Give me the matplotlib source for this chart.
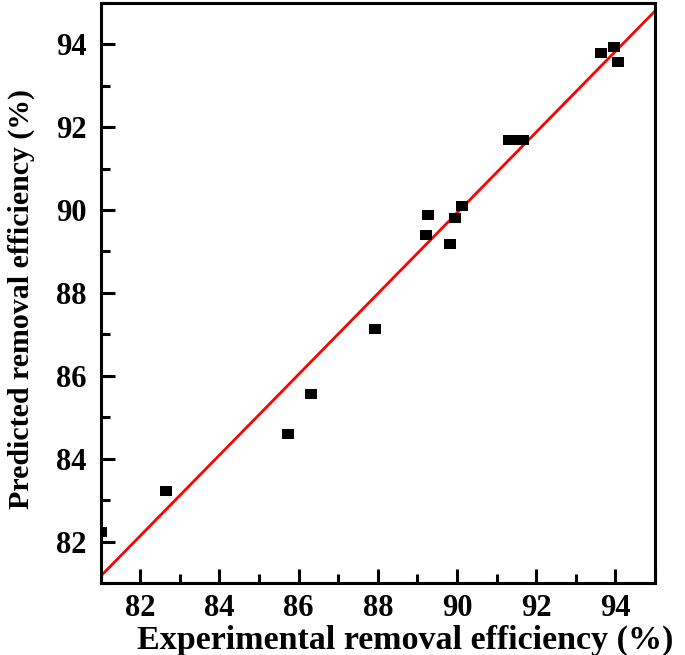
import matplotlib
matplotlib.use("Agg")
import matplotlib.pyplot as plt
from matplotlib.path import Path
from matplotlib.ticker import MultipleLocator
import numpy as np

# Data
experimental = [81.0, 82.64, 85.72, 86.31, 87.92, 89.21, 89.27, 89.82, 89.95, 90.14,
                91.32, 91.50, 91.68, 93.64, 93.97, 94.08]
predicted = [82.23, 83.23, 84.59, 85.56, 87.12, 89.39, 89.89, 89.17, 89.81, 90.10,
             91.69, 91.69, 91.69, 93.78, 93.93, 93.58]
fit_slope = 0.974
fit_intercept = 2.27
x_ticks = [82, 84, 86, 88, 90, 92, 94]
y_ticks = [82, 84, 86, 88, 90, 92, 94]
xlabel = "Experimental removal efficiency (%)"
ylabel = "Predicted removal efficiency (%)"

plt.rcParams['font.family'] = ['Liberation Serif', 'DejaVu Serif']
plt.rcParams['font.weight'] = 'bold'

fig = plt.figure(figsize=(6.85, 6.55), dpi=100)
ax = fig.add_axes([0.147, 0.110, 0.809, 0.8856])

rect = Path([(-0.5, -0.39), (0.5, -0.39), (0.5, 0.39), (-0.5, 0.39), (-0.5, -0.39)],
            [Path.MOVETO, Path.LINETO, Path.LINETO, Path.LINETO, Path.CLOSEPOLY])
ax.plot(experimental, predicted, linestyle='none', marker=rect, markersize=9.0,
        color='black', markeredgewidth=0, zorder=3)

xl = np.array([81.0, 95.0])
ax.plot(xl, fit_intercept + fit_slope * xl, color='red', linewidth=2.0, zorder=2)

ax.set_xlim(81, 95)
ax.set_ylim(81, 95)
ax.set_xticks(x_ticks)
ax.set_yticks(y_ticks)
ax.xaxis.set_minor_locator(MultipleLocator(1))
ax.yaxis.set_minor_locator(MultipleLocator(1))
ax.tick_params(which='both', direction='in', width=2.2, top=False, right=False,
               labelsize=22)
ax.tick_params(which='major', length=10)
ax.tick_params(axis='x', which='major', pad=8)
ax.tick_params(axis='y', which='major', pad=10)
ax.tick_params(which='minor', length=6.5)
for lab in ax.get_xticklabels() + ax.get_yticklabels():
    lab.set_fontweight('bold')
for s in ax.spines.values():
    s.set_linewidth(2.2)

ax.set_xlabel(xlabel, fontsize=24.5, fontweight='bold')
ax.xaxis.set_label_coords(0.55, -0.072)
ax.set_ylabel(ylabel, fontsize=21.5, fontweight='bold')
ax.yaxis.set_label_coords(-0.118, 0.49)

fig.savefig("out.png", dpi=100)
